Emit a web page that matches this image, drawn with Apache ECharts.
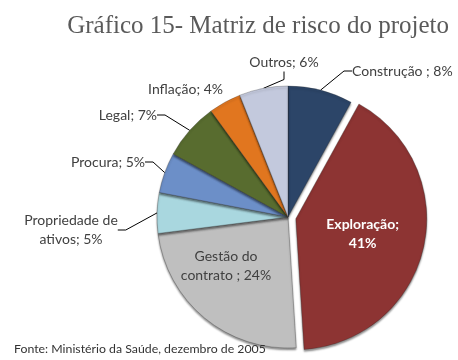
<!DOCTYPE html>
<html>
<head>
<meta charset="utf-8">
<script src="https://cdn.jsdelivr.net/npm/echarts@6/dist/echarts.min.js"></script>
<style>
  html, body { margin: 0; padding: 0; background: #ffffff; }
  #chart { width: 458px; height: 360px; }
</style>
</head>
<body>
<div id="chart"></div>
<script>
// Risk categories, clockwise from 12 o'clock
const categories = ['Construção ', 'Exploração', 'Gestão do\ncontrato ', 'Propriedade de\nativos', 'Procura', 'Legal', 'Inflação', 'Outros'];
// Share of each risk, in percent
const shares = [8, 41, 24, 5, 5, 7, 4, 6];

const sliceColors = ['#2c4568', '#8d3433', '#bfbfbf', '#a9d7df', '#6c8fc8', '#586c2f', '#e1761f', '#c3c9dd'];

// Where each label sits on the page (anchor point + alignment), and whether it gets a leader line
const labelPlacement = [
  { x: 352, y: 71, align: 'left', line: true },
  { x: 380, y: 243, align: 'center', line: false },
  { x: 226, y: 266, align: 'center', line: false },
  { x: 71, y: 230, align: 'center', line: true },
  { x: 145, y: 162, align: 'right', line: true },
  { x: 157, y: 115, align: 'right', line: true },
  { x: 223, y: 89, align: 'right', line: false },
  { x: 284, y: 62, align: 'center', line: true }
];

const chart = echarts.init(document.getElementById('chart'), null, { renderer: 'canvas' });

const labelFont = 'Lato, "Open Sans", sans-serif';

const seriesData = categories.map((name, i) => {
  const item = {
    name: name,
    value: shares[i],
    itemStyle: { color: sliceColors[i] },
    labelLine: { show: labelPlacement[i].line }
  };
  if (name === 'Exploração') {
    item.selected = true;
    item.label = { position: 'inside', color: '#ffffff', fontWeight: 'bold' };
  } else if (name.indexOf('Gestão') === 0) {
    item.label = { position: 'inside', color: '#404040' };
  }
  return item;
});

chart.setOption({
  animation: false,
  title: [
    {
      text: 'Gráfico 15- Matriz de risco do projeto',
      right: 4,
      top: 9,
      textStyle: { fontFamily: '"Liberation Serif", "DejaVu Serif", serif', fontSize: 25, fontWeight: 'normal', color: '#5a5a5a' }
    },
    {
      text: 'Fonte: Ministério da Saúde, dezembro de 2005',
      left: 9,
      top: 338,
      textStyle: { fontFamily: labelFont, fontSize: 12.3, fontWeight: 'normal', color: '#333333' }
    }
  ],
  series: [{
    type: 'pie',
    center: [288, 217],
    radius: [0, 131],
    startAngle: 90,
    clockwise: true,
    selectedMode: 'multiple',
    selectedOffset: 8,
    avoidLabelOverlap: false,
    itemStyle: {
      borderColor: 'rgba(40,40,40,0.35)',
      borderWidth: 0.8,
      shadowColor: 'rgba(0,0,0,0.45)',
      shadowBlur: 2,
      shadowOffsetY: 2
    },
    label: {
      show: true,
      position: 'outside',
      fontFamily: labelFont,
      fontSize: 14,
      color: '#404040',
      lineHeight: 19,
      formatter: p => p.name + ';' + (p.name === 'Exploração' ? '\n' : ' ') + p.value + '%'
    },
    labelLine: {
      show: true,
      length: 12,
      length2: 8,
      lineStyle: { color: '#000000', width: 1 }
    },
    labelLayout: function (params) {
      const p = labelPlacement[params.dataIndex];
      return { x: p.x, y: p.y, align: p.align, verticalAlign: 'middle', hideOverlap: false };
    },
    emphasis: { disabled: true },
    data: seriesData
  }]
});
</script>
</body>
</html>
